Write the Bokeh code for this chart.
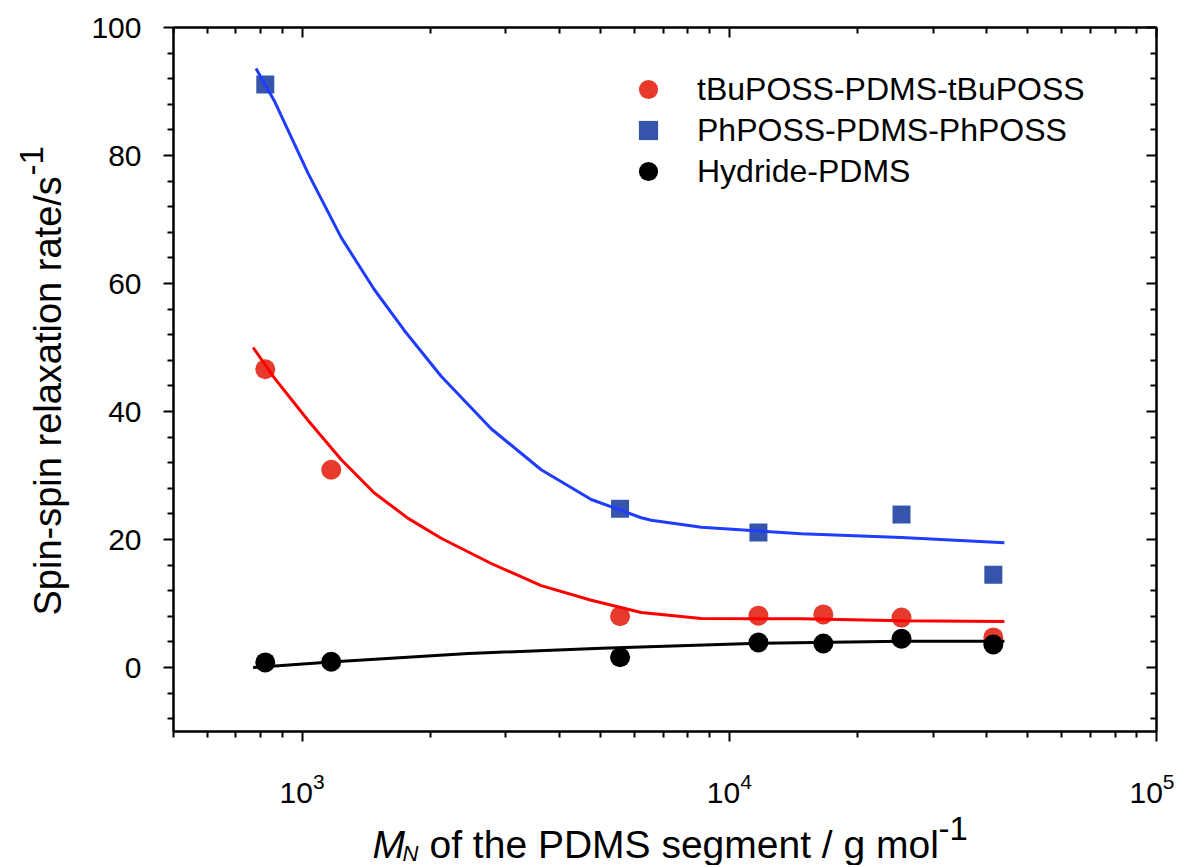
import math
from bokeh.plotting import figure
from bokeh.layouts import row, column
from bokeh.models import (FixedTicker, LogAxis, LinearAxis, Legend, LegendItem,
                          CustomJSTickFormatter, Range1d)
from bokeh.core.properties import value
from bokeh.embed import file_html
from bokeh.resources import INLINE

# ---------------- data ----------------
mn_tbu = [820, 1170, 5550, 11700, 16600, 25300, 41500]
rate_tbu = [46.6, 30.9, 8.0, 8.1, 8.3, 7.8, 4.7]

mn_ph = [820, 5550, 11700, 25300, 41500]
rate_ph = [91.1, 24.8, 21.1, 23.9, 14.5]

mn_hyd = [820, 1170, 5550, 11700, 16600, 25300, 41500]
rate_hyd = [0.8, 0.9, 1.6, 3.9, 3.75, 4.5, 3.6]

# fitted curves
fit_ph_x = [780, 860, 1033, 1234, 1474, 1733, 2116, 2771, 3628, 4751, 6220, 6566, 8600, 11260, 14740, 25280, 44060]
fit_ph_y = [93.6, 88.6, 77.2, 67.2, 59.1, 52.7, 45.5, 37.3, 30.9, 26.25, 23.4, 23.0, 21.9, 21.4, 20.9, 20.3, 19.5]

fit_tbu_x = [768, 860, 1033, 1234, 1474, 1771, 2116, 2771, 3628, 4751, 6220, 8600, 14740, 25280, 44060]
fit_tbu_y = [50.0, 45.3, 38.6, 32.5, 27.3, 23.3, 20.2, 16.25, 12.8, 10.5, 8.6, 7.65, 7.6, 7.3, 7.2]

fit_hyd_x = [768, 1190, 2450, 5020, 11260, 25280, 44060]
fit_hyd_y = [0.0, 0.9, 2.2, 3.0, 3.75, 4.1, 4.1]

series_labels = ["tBuPOSS-PDMS-tBuPOSS", "PhPOSS-PDMS-PhPOSS", "Hydride-PDMS"]

x_major = [1e3, 1e4, 1e5]
x_minor = [500, 600, 700, 800, 900,
           2000, 3000, 4000, 5000, 6000, 7000, 8000, 9000,
           20000, 30000, 40000, 50000, 60000, 70000, 80000, 90000]
y_major = [0, 20, 40, 60, 80, 100]
y_minor = [-8, -4, 4, 8, 12, 16, 24, 28, 32, 36, 44, 48, 52, 56, 64, 68, 72, 76, 84, 88, 92, 96]

x_label_sym = "M"
x_label_sub = "N"
x_label_main = "of the PDMS segment / g mol"
y_label_main = "Spin-spin relaxation rate/s"
sup_text = "-1"

FONT = "Liberation Sans"

# layout sizes
YL_W = 80
B_LEFT, FRAME_W, B_RIGHT = 93, 983, 18
B_TOP, FRAME_H, B_BOTTOM = 27, 704, 80
TOTAL_H = 865
XL_H = TOTAL_H - B_TOP - FRAME_H - B_BOTTOM

# ---------------- main figure ----------------
p = figure(x_axis_type="log", x_range=Range1d(500, 1e5), y_range=Range1d(-10, 100),
           frame_width=FRAME_W, frame_height=FRAME_H,
           min_border_left=B_LEFT, min_border_right=B_RIGHT,
           min_border_top=B_TOP, min_border_bottom=B_BOTTOM,
           output_backend="svg", toolbar_location=None,
           background_fill_color="white", border_fill_color="white")

p.xgrid.visible = False
p.ygrid.visible = False
p.outline_line_color = "black"
p.outline_line_width = 2


def style_axis(ax, inward):
    ax.axis_line_color = "black"
    ax.axis_line_width = 2
    ax.major_tick_line_width = 2
    ax.minor_tick_line_width = 2
    ax.major_tick_line_color = "black"
    ax.minor_tick_line_color = "black"
    if inward:
        ax.major_tick_in, ax.major_tick_out = 10, 0
        ax.minor_tick_in, ax.minor_tick_out = 6, 0
    else:
        ax.major_tick_in, ax.major_tick_out = 0, 10
        ax.minor_tick_in, ax.minor_tick_out = 0, 6
    ax.major_label_text_font = FONT
    ax.major_label_text_font_size = "30px"
    ax.major_label_text_color = "black"


xa = p.xaxis[0]
xa.ticker = FixedTicker(ticks=x_major, minor_ticks=x_minor)
style_axis(xa, False)
xa.major_label_standoff = 31

ya = p.yaxis[0]
ya.ticker = FixedTicker(ticks=y_major, minor_ticks=y_minor)
style_axis(ya, False)
ya.major_label_standoff = 22

top = LogAxis(ticker=FixedTicker(ticks=x_major, minor_ticks=x_minor),
              formatter=CustomJSTickFormatter(code="return ''"))
style_axis(top, True)
p.add_layout(top, "above")
right = LinearAxis(ticker=FixedTicker(ticks=y_major, minor_ticks=y_minor),
                   formatter=CustomJSTickFormatter(code="return ''"))
style_axis(right, True)
p.add_layout(right, "right")

# ---------------- marks ----------------
r_tbu = p.scatter(mn_tbu, rate_tbu, marker="circle", size=20, fill_color="#e8392d", line_color=None)
r_ph = p.scatter(mn_ph, rate_ph, marker="square", size=18, fill_color="#3555ad", line_color=None)
r_hyd = p.scatter(mn_hyd, rate_hyd, marker="circle", size=20, fill_color="black", line_color=None)

p.line(fit_tbu_x, fit_tbu_y, line_color="#ff0000", line_width=3)
p.line(fit_ph_x, fit_ph_y, line_color="#1f3cff", line_width=3)
p.line(fit_hyd_x, fit_hyd_y, line_color="black", line_width=3)

# one legend per entry so that rows sit at the reference pitch
for lbl, rend, marg, lw in [(series_labels[0], r_tbu, 28, 421),
                            (series_labels[1], r_ph, 69, 380),
                            (series_labels[2], r_hyd, 110, 339)]:
    lg = Legend(items=[LegendItem(label=lbl, renderers=[rend])],
                location="top_right", margin=marg, padding=10,
                glyph_width=48, glyph_height=48, label_standoff=25, label_width=lw,
                label_text_font=FONT, label_text_font_size="32px",
                label_text_color="black",
                border_line_alpha=0, background_fill_alpha=0)
    p.add_layout(lg)


# ---------------- axis-title panels ----------------
def text_panel(**kw):
    f = figure(toolbar_location=None, output_backend="svg",
               x_axis_location=None, y_axis_location=None, outline_line_color=None,
               background_fill_color="white", border_fill_color="white", **kw)
    f.xgrid.visible = False
    f.ygrid.visible = False
    return f


def put_text(f, x, y, txt, size, italic=False, angle=0.0):
    f.text(x=[x], y=[y], text=[txt], angle=angle,
           text_font=value(FONT), text_font_size=value(f"{size}px"),
           text_font_style="italic" if italic else "normal",
           text_color="black", text_align="left", text_baseline="middle")


# y title: panel covers the whole strip left of the main figure, 1 data unit = 1 px
ylab = text_panel(width=YL_W, height=TOTAL_H, min_border=0,
                  x_range=Range1d(0, YL_W), y_range=Range1d(0, TOTAL_H))
put_text(ylab, 47, 250, y_label_main, 38, angle=math.pi / 2)
put_text(ylab, 31, 690, sup_text, 33, angle=math.pi / 2)

# x title: same horizontal frame as the main plot so the column aligns it 1:1
xlab = text_panel(frame_width=FRAME_W, height=XL_H,
                  min_border_left=B_LEFT, min_border_right=B_RIGHT,
                  min_border_top=0, min_border_bottom=0,
                  x_range=Range1d(0, FRAME_W), y_range=Range1d(0, XL_H))
put_text(xlab, 199, 21.5, x_label_sym, 39, italic=True)
put_text(xlab, 229, 12, x_label_sub, 22, italic=True)
put_text(xlab, 256, 21.5, x_label_main, 39)
put_text(xlab, 765, 37, sup_text, 33)

layout = row(ylab, column(p, xlab, spacing=0), spacing=0)

open("out.html", "w").write(file_html(layout, INLINE))
